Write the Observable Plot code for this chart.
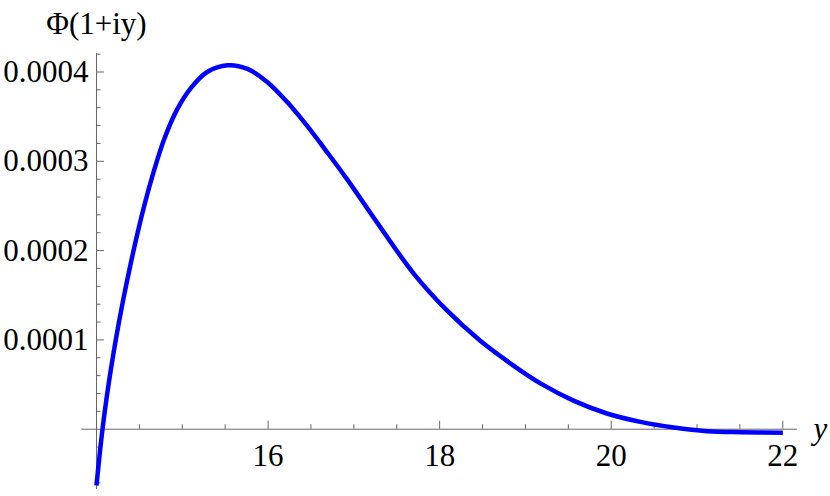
<!DOCTYPE html>
<html>
<head>
<meta charset="utf-8">
<script src="https://cdn.jsdelivr.net/npm/d3@7"></script>
<script src="https://cdn.jsdelivr.net/npm/@observablehq/plot@0.6"></script>
<style>
  html, body { margin: 0; padding: 0; background: #fff; }
</style>
</head>
<body>
<div id="chart"></div>
<script>
// Curve samples: y (abscissa) and Φ(1+iy)
const yValues = [14.0, 14.07, 14.148, 14.226, 14.304, 14.38, 14.46, 14.556, 14.672, 14.79, 14.945, 15.10, 15.29, 15.527, 15.76, 15.993, 16.226, 16.46, 16.69, 16.92, 17.31, 17.70, 18.085, 18.47, 18.86, 19.18, 19.56, 19.95, 20.34, 20.73, 21.12, 21.51, 22.0];
const phiValues = [-0.000063, 0.0, 0.0000546, 0.0001006, 0.0001412, 0.0001769, 0.0002119, 0.000250, 0.000290, 0.000325, 0.000359, 0.000382, 0.000400, 0.0004075, 0.0004035, 0.0003886, 0.000366, 0.000339, 0.000310, 0.000280, 0.000226, 0.000174, 0.000133, 0.0000993, 0.0000713, 0.000051, 0.000032, 0.0000176, 0.0000082, 0.0000019, -0.0000022, -0.0000034, -0.000004];

// Axis ticks and labels
const xMajorTicks = [16, 18, 20, 22];
const xMinorTicks = [14.5, 15, 15.5, 16.5, 17, 17.5, 18.5, 19, 19.5, 20.5, 21, 21.5];
const yMajorTicks = [0.0001, 0.0002, 0.0003, 0.0004];
const yMajorLabels = ["0.0001", "0.0002", "0.0003", "0.0004"];
const yMinorTicks = [-0.00006, -0.00004, -0.00002, 0.00002, 0.00004, 0.00006, 0.00008, 0.00012, 0.00014, 0.00016, 0.00018, 0.00022, 0.00024, 0.00026, 0.00028, 0.00032, 0.00034, 0.00036, 0.00038, 0.00042];
const titleText = "Φ(1+iy)";
const xAxisLabel = "y";

const data = yValues.map((y, i) => ({y, phi: phiValues[i]}));

const W = 830, H = 496;
const mL = 81.4, mR = 33.1, mT = 53, mB = 7;
const xDomain = [13.83, 22.17];
const yDomain = [-0.0000675, 0.0004207];
const xOrigin = 14;
const xPerPx = (xDomain[1] - xDomain[0]) / (W - mL - mR);
const yPerPx = (yDomain[1] - yDomain[0]) / (H - mT - mB);
const axisColor = "#666";
const majorLen = 8, minorLen = 4.5;

const chart = Plot.plot({
  width: W,
  height: H,
  marginLeft: mL, marginRight: mR, marginTop: mT, marginBottom: mB,
  x: {domain: xDomain, axis: null},
  y: {domain: yDomain, axis: null},
  style: {fontFamily: "'Liberation Serif', 'Times New Roman', serif", fontSize: "31px", background: "#fff", overflow: "visible"},
  marks: [
    // axes lines
    Plot.ruleY([0], {x1: xDomain[0], x2: xDomain[1], stroke: axisColor, strokeWidth: 1}),
    Plot.ruleX([xOrigin], {y1: yDomain[0], y2: yDomain[1], stroke: axisColor, strokeWidth: 1}),
    // x ticks
    Plot.ruleX(xMajorTicks, {x: d => d, y1: 0, y2: majorLen * yPerPx, stroke: axisColor, strokeWidth: 1}),
    Plot.ruleX(xMinorTicks, {x: d => d, y1: 0, y2: minorLen * yPerPx, stroke: axisColor, strokeWidth: 1}),
    // y ticks
    Plot.ruleY(yMajorTicks, {y: d => d, x1: xOrigin, x2: xOrigin + majorLen * xPerPx, stroke: axisColor, strokeWidth: 1}),
    Plot.ruleY(yMinorTicks, {y: d => d, x1: xOrigin, x2: xOrigin + minorLen * xPerPx, stroke: axisColor, strokeWidth: 1}),
    // curve
    Plot.line(data, {x: "y", y: "phi", stroke: "#0000ff", strokeWidth: 4.5, curve: "catmull-rom", strokeLinecap: "butt"}),
    // x tick labels
    Plot.text(xMajorTicks, {x: d => d, y: 0, text: d => String(d), dy: 27, textAnchor: "middle", lineAnchor: "middle", fill: "#000"}),
    // y tick labels
    Plot.text(yMajorTicks, {x: xOrigin, y: d => d, text: (d, i) => yMajorLabels[i], dx: -8, textAnchor: "end", lineAnchor: "middle", fill: "#000"}),
    // title on the y axis
    Plot.text([titleText], {x: xOrigin, y: yDomain[1], text: d => d, dy: -29, textAnchor: "middle", lineAnchor: "middle", fill: "#000"}),
    // x-axis label
    Plot.text([xAxisLabel], {x: xDomain[1], y: 0, text: d => d, dx: 16, textAnchor: "start", lineAnchor: "middle", fontStyle: "italic", fill: "#000"})
  ]
});
document.getElementById("chart").appendChild(chart);
</script>
</body>
</html>
